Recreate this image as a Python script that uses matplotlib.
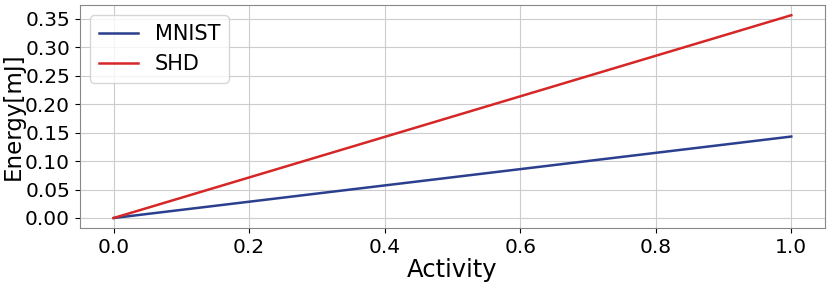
import numpy as np
import matplotlib
matplotlib.use("Agg")
import matplotlib.pyplot as plt

activity = [0.0, 1.0]
mnist_energy = [0.0, 0.143]
shd_energy = [0.0, 0.356]

fig = plt.figure(figsize=(8.31, 2.82), dpi=100)
ax = fig.add_axes([0.096, 0.191, 0.897, 0.791])
ax.plot(activity, mnist_energy, color='#2b3f8f', linewidth=1.8, label='MNIST')
ax.plot(activity, shd_energy, color='#d62728', linewidth=1.8, label='SHD')
ax.set_xlabel("Activity", fontsize=17.5, labelpad=1)
ax.set_ylabel("Energy[mJ]", fontsize=16.5)
ax.yaxis.set_label_coords(-0.074, 0.5)
ax.set_yticks(np.arange(0, 0.36, 0.05))
ax.tick_params(labelsize=14.5)
ax.grid(True, color='#cccccc', linewidth=0.8)
for s in ax.spines.values():
    s.set_color('#888888')
ax.legend(fontsize=15, loc='upper left', handlelength=1.9)
fig.savefig("out.png", dpi=100)
